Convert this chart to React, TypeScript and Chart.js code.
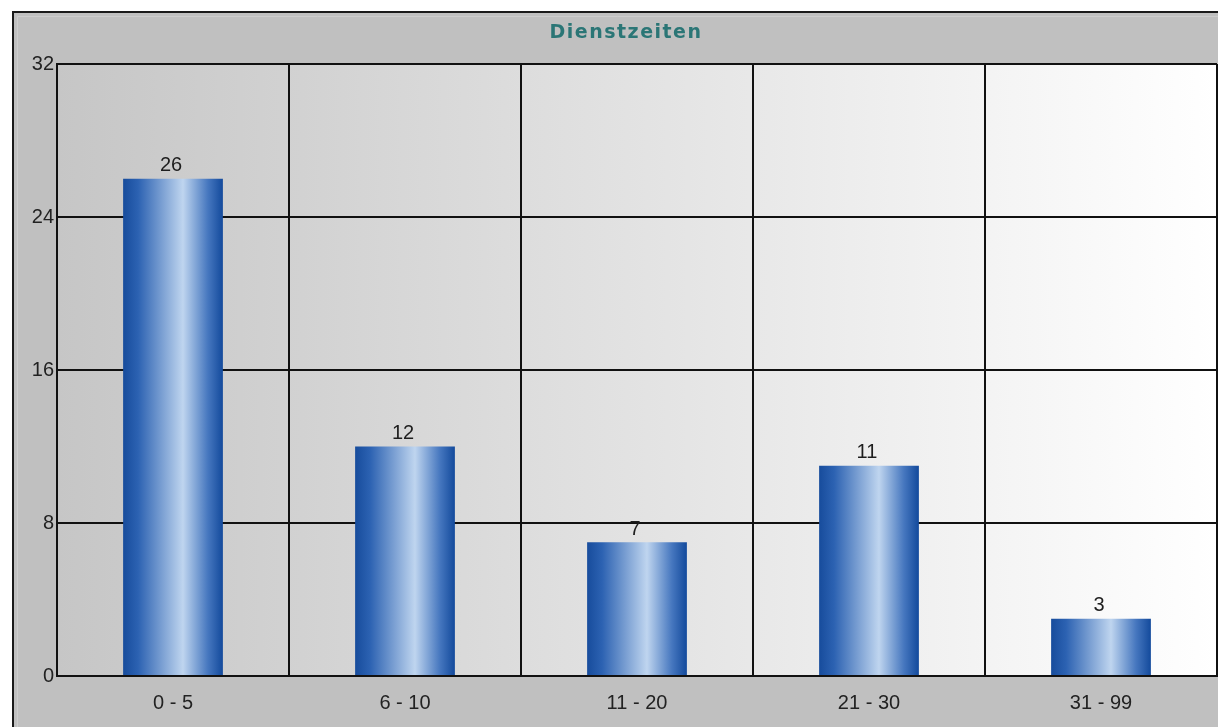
import React, { useEffect, useRef } from "react";
import { Chart, registerables } from "chart.js";

Chart.register(...registerables);

const categories = ["0 - 5", "6 - 10", "11 - 20", "21 - 30", "31 - 99"];
const values = [26, 12, 7, 11, 3];
const yTicks = [0, 8, 16, 24, 32];
const title = "Dienstzeiten";

const FONT = "'Liberation Sans', Arial, sans-serif";
const BAR_PCT = 0.43;

const framePlugin = {
  id: "frame",
  beforeDraw(chart: any) {
    const { ctx, width, height, chartArea } = chart;
    if (!chartArea) return;
    ctx.save();
    ctx.fillStyle = "#ffffff";
    ctx.fillRect(0, 0, width, height);
    ctx.fillStyle = "#c0c0c0";
    ctx.fillRect(13, 12, width - 13, height - 12);
    ctx.strokeStyle = "#1a1a1a";
    ctx.lineWidth = 2;
    ctx.beginPath();
    ctx.moveTo(13, height);
    ctx.lineTo(13, 12);
    ctx.lineTo(width, 12);
    ctx.stroke();
    ctx.strokeStyle = "#cdcdcd";
    ctx.lineWidth = 1;
    ctx.beginPath();
    ctx.moveTo(17.5, height);
    ctx.lineTo(17.5, 16.5);
    ctx.lineTo(width, 16.5);
    ctx.stroke();
    const g = ctx.createLinearGradient(chartArea.left, 0, chartArea.right, 0);
    g.addColorStop(0, "#c6c6c6");
    g.addColorStop(1, "#ffffff");
    ctx.fillStyle = g;
    ctx.fillRect(chartArea.left, chartArea.top, chartArea.right - chartArea.left, chartArea.bottom - chartArea.top);
    ctx.fillStyle = "#2b7676";
    ctx.font = `bold 19px 'DejaVu Sans', Verdana, sans-serif`;
    try { (ctx as any).letterSpacing = "1.5px"; } catch (e) {}
    ctx.textAlign = "center";
    ctx.textBaseline = "middle";
    ctx.fillText(title, 626, 33);
    ctx.restore();
  },
  afterDatasetsDraw(chart: any) {
    const { ctx } = chart;
    const meta = chart.getDatasetMeta(0);
    ctx.save();
    ctx.fillStyle = "#1e1e1e";
    ctx.font = `20px ${FONT}`;
    ctx.textAlign = "center";
    ctx.textBaseline = "bottom";
    meta.data.forEach((bar: any, i: number) => {
      ctx.fillText(String(values[i]), bar.x - 2, bar.y - 3);
    });
    ctx.restore();
  },
};

export default function App() {
  const ref = useRef<HTMLCanvasElement>(null);
  useEffect(() => {
    if (!ref.current) return;
    const chart = new Chart(ref.current, {
      type: "bar",
      data: {
        labels: categories,
        datasets: [
          {
            data: values,
            barPercentage: BAR_PCT,
            categoryPercentage: 1,
            borderWidth: 0,
            backgroundColor: (c: any) => {
              const ch = c.chart;
              const xs = ch.scales?.x;
              const area = ch.chartArea;
              if (!xs || !area || c.dataIndex === undefined) return "#2a5fae";
              const cx = xs.getPixelForValue(c.dataIndex);
              const w = ((area.right - area.left) / categories.length) * BAR_PCT;
              const g = ch.ctx.createLinearGradient(cx - w / 2, 0, cx + w / 2, 0);
              g.addColorStop(0, "#174c9c");
              g.addColorStop(0.15, "#2c62b2");
              g.addColorStop(0.6, "#bfd5ef");
              g.addColorStop(0.85, "#4677bf");
              g.addColorStop(1, "#134a9c");
              return g;
            },
          },
        ],
      },
      options: {
        responsive: false,
        animation: false,
        layout: { padding: { top: 64, right: 1, left: 0, bottom: 0 } },
        plugins: { legend: { display: false }, title: { display: false }, tooltip: { enabled: false } },
        scales: {
          x: {
            afterFit: (s: any) => { s.height = 51; },
            grid: { color: "#111111", lineWidth: 2, drawTicks: false, offset: true },
            border: { color: "#111111", width: 2 },
            ticks: { color: "#222222", font: { family: FONT, size: 20 }, padding: 15 },
          },
          y: {
            min: 0,
            max: 32,
            afterFit: (s: any) => { s.width = 57; },
            afterBuildTicks: (s: any) => { s.ticks = yTicks.map((v) => ({ value: v })); },
            grid: { color: "#111111", lineWidth: 2, drawTicks: false },
            border: { color: "#111111", width: 2 },
            ticks: { color: "#222222", font: { family: FONT, size: 20 }, padding: 3 },
          },
        },
      },
      plugins: [framePlugin],
    });
    chart.update();
    return () => chart.destroy();
  }, []);
  return (
    <canvas
      ref={ref}
      width={1218}
      height={727}
      style={{ position: "absolute", left: 0, top: 0, width: 1218, height: 727 }}
    />
  );
}
